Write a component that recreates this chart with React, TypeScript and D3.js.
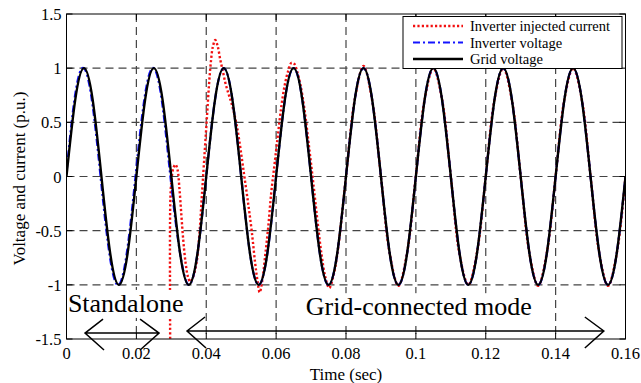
import { useEffect, useRef } from "react";
import * as d3 from "d3";

// axis ticks
const xTicks = [0, 0.02, 0.04, 0.06, 0.08, 0.1, 0.12, 0.14, 0.16];
const xTickLabels = ["0", "0.02", "0.04", "0.06", "0.08", "0.1", "0.12", "0.14", "0.16"];
const yTicks = [-1.5, -1, -0.5, 0, 0.5, 1, 1.5];
const yTickLabels = ["-1.5", "-1", "-0.5", "0", "0.5", "1", "1.5"];

// grid voltage / inverter voltage, sampled every 2.5 ms
const voltageTime = [
  0, 0.0025, 0.005, 0.0075, 0.01, 0.0125, 0.015, 0.0175,
  0.02, 0.0225, 0.025, 0.0275, 0.03, 0.0325, 0.035, 0.0375,
  0.04, 0.0425, 0.045, 0.0475, 0.05, 0.0525, 0.055, 0.0575,
  0.06, 0.0625, 0.065, 0.0675, 0.07, 0.0725, 0.075, 0.0775,
  0.08, 0.0825, 0.085, 0.0875, 0.09, 0.0925, 0.095, 0.0975,
  0.1, 0.1025, 0.105, 0.1075, 0.11, 0.1125, 0.115, 0.1175,
  0.12, 0.1225, 0.125, 0.1275, 0.13, 0.1325, 0.135, 0.1375,
  0.14, 0.1425, 0.145, 0.1475, 0.15, 0.1525, 0.155, 0.1575,
  0.16,
];
const gridVoltage = [
  0, 0.707, 1, 0.707, 0, -0.707, -1, -0.707,
  0, 0.707, 1, 0.707, 0, -0.707, -1, -0.707,
  0, 0.707, 1, 0.707, 0, -0.707, -1, -0.707,
  0, 0.707, 1, 0.707, 0, -0.707, -1, -0.707,
  0, 0.707, 1, 0.707, 0, -0.707, -1, -0.707,
  0, 0.707, 1, 0.707, 0, -0.707, -1, -0.707,
  0, 0.707, 1, 0.707, 0, -0.707, -1, -0.707,
  0, 0.707, 1, 0.707, 0, -0.707, -1, -0.707,
  0,
];
const inverterVoltage = [
  0.04, 0.76, 1, 0.65, -0.08, -0.76, -1, -0.65,
  0.08, 0.76, 1, 0.65, -0.08, -0.707, -1, -0.707,
  0, 0.707, 1, 0.707, 0, -0.707, -1, -0.707,
  0, 0.707, 1, 0.707, 0, -0.707, -1, -0.707,
  0, 0.707, 1, 0.707, 0, -0.707, -1, -0.707,
  0, 0.707, 1, 0.707, 0, -0.707, -1, -0.707,
  0, 0.707, 1, 0.707, 0, -0.707, -1, -0.707,
  0, 0.707, 1, 0.707, 0, -0.707, -1, -0.707,
  0,
];

// inverter injected current (starts when the inverter is connected)
const currentTime = [
  0.0297, 0.0297, 0.03, 0.0306, 0.0312, 0.0318, 0.0323, 0.0328, 0.0334, 0.0341,
  0.0348, 0.0354, 0.0362, 0.0372, 0.038, 0.0388, 0.0396, 0.0402, 0.0408, 0.0413,
  0.0419, 0.0426, 0.0433, 0.044, 0.0447, 0.0455, 0.0464, 0.0472, 0.048, 0.0488,
  0.0496, 0.0503, 0.051, 0.052, 0.053, 0.054, 0.0547, 0.0553, 0.056, 0.0568,
  0.0577, 0.0586, 0.0595, 0.0605, 0.0615, 0.0625, 0.0635, 0.0644, 0.0652, 0.066,
  0.067, 0.0682, 0.0694, 0.0706, 0.0718, 0.073, 0.0741, 0.0752, 0.0763, 0.0775,
  0.08, 0.0825, 0.085, 0.0875, 0.09, 0.0925, 0.095, 0.0975,
  0.1, 0.1025, 0.105, 0.1075, 0.11, 0.1125, 0.115, 0.1175,
  0.12, 0.1225, 0.125, 0.1275, 0.13, 0.1325, 0.135, 0.1375,
  0.14, 0.1425, 0.145, 0.1475, 0.15, 0.1525, 0.155, 0.1575,
  0.16,
];
const injectedCurrent = [
  -1.7, -0.25, -0.05, 0.08, 0.11, 0.06, -0.1, -0.32, -0.58, -0.8,
  -0.93, -0.97, -0.93, -0.8, -0.55, -0.15, 0.25, 0.55, 0.85, 1.05,
  1.2, 1.26, 1.2, 1.08, 0.98, 0.86, 0.76, 0.68, 0.58, 0.46,
  0.3, 0.14, -0.02, -0.25, -0.5, -0.8, -0.97, -1.07, -0.97, -0.75,
  -0.48, -0.15, 0.1, 0.38, 0.65, 0.85, 0.98, 1.05, 1.04, 0.97,
  0.84, 0.6, 0.28, -0.05, -0.4, -0.72, -0.93, -1.03, -0.93, -0.72,
  0, 0.71, 1.02, 0.7, 0, -0.71, -1.01, -0.7,
  0.01, 0.71, 1.0, 0.71, 0, -0.72, -1.0, -0.7,
  0, 0.71, 1.0, 0.7, 0, -0.71, -1.01, -0.7,
  0, 0.71, 1.0, 0.71, 0, -0.71, -1.01, -0.71,
  0,
];

const legendLabels = ["Inverter injected current", "Inverter voltage", "Grid voltage"];
const modeLabels = ["Standalone", "Grid-connected mode"];

const FONT = '"Liberation Serif", Tinos, "Times New Roman", "DejaVu Serif", serif';

export default function App() {
  const ref = useRef<SVGSVGElement>(null);

  useEffect(() => {
    const svg = d3.select(ref.current);
    svg.selectAll("*").remove();

    const left = 66.5, right = 625.5, top = 14, bottom = 339;
    const x = d3.scaleLinear().domain([0, 0.16]).range([left, right]);
    const y = d3.scaleLinear().domain([-1.5, 1.5]).range([bottom, top]);

    svg.append("defs").append("clipPath").attr("id", "plot-clip")
      .append("rect")
      .attr("x", left).attr("y", top)
      .attr("width", right - left).attr("height", bottom - top);

    // dashed grid
    const grid = svg.append("g")
      .attr("stroke", "#444")
      .attr("stroke-width", 1.2)
      .attr("stroke-dasharray", "8,5");
    grid.selectAll(".vgrid")
      .data(xTicks.slice(1, -1))
      .join("line")
      .attr("x1", d => x(d)).attr("x2", d => x(d))
      .attr("y1", top).attr("y2", bottom);
    grid.selectAll(".hgrid")
      .data(yTicks.slice(1, -1))
      .join("line")
      .attr("y1", d => y(d)).attr("y2", d => y(d))
      .attr("x1", left).attr("x2", right);

    // curves
    const plot = svg.append("g").attr("clip-path", "url(#plot-clip)");
    const smooth = d3.line<number>()
      .x((_, i) => x(voltageTime[i]))
      .curve(d3.curveNatural);
    const currentLine = d3.line<number>()
      .x((_, i) => x(currentTime[i]))
      .y(d => y(d))
      .curve(d3.curveCatmullRom.alpha(0.5));

    plot.append("path")
      .attr("d", currentLine(injectedCurrent))
      .attr("fill", "none")
      .attr("stroke", "#f21010")
      .attr("stroke-width", 2.4)
      .attr("stroke-dasharray", "2.2,2.2");

    plot.append("path")
      .attr("d", smooth.y(d => y(d))(inverterVoltage))
      .attr("fill", "none")
      .attr("stroke", "#1414ff")
      .attr("stroke-width", 2.2)
      .attr("stroke-dasharray", "7,3,2,3");

    plot.append("path")
      .attr("d", smooth.y(d => y(d))(gridVoltage))
      .attr("fill", "none")
      .attr("stroke", "#000")
      .attr("stroke-width", 2.4);

    // mode annotations with white background
    const modePos = [[0.0004, -1.25], [0.0685, -1.28]];
    modeLabels.forEach((label, i) => {
      const g = svg.append("g");
      const bg = g.append("rect").attr("fill", "#fff");
      const t = g.append("text")
        .attr("x", x(modePos[i][0]))
        .attr("y", y(modePos[i][1]))
        .style("font-family", FONT)
        .style("font-size", "26px")
        .attr("fill", "#000")
        .text(label);
      const b = (t.node() as SVGTextElement).getBBox();
      bg.attr("x", b.x - 2).attr("y", b.y + 1)
        .attr("width", b.width + 6).attr("height", b.height - 1);
    });

    // double-headed arrows
    const arrows = [[0.0053, 0.0265, -1.445], [0.0345, 0.1538, -1.426]];
    arrows.forEach(([a, b, v]) => {
      const x1 = x(a), x2 = x(b), yy = y(v);
      svg.append("path")
        .attr("d",
          `M${x1},${yy}L${x2},${yy}` +
          `M${x1 + 18},${yy - 14}L${x1},${yy}L${x1 + 19},${yy + 17}` +
          `M${x2 - 19},${yy - 14}L${x2},${yy}L${x2 - 19},${yy + 17}`)
        .attr("fill", "none")
        .attr("stroke", "#000")
        .attr("stroke-width", 1.5);
    });

    // ticks (inward, all four sides)
    const ticks = svg.append("g").attr("stroke", "#000").attr("stroke-width", 1);
    ticks.selectAll(".xb").data(xTicks).join("line")
      .attr("x1", d => x(d)).attr("x2", d => x(d))
      .attr("y1", bottom).attr("y2", bottom - 6);
    ticks.selectAll(".xt").data(xTicks).join("line")
      .attr("x1", d => x(d)).attr("x2", d => x(d))
      .attr("y1", top).attr("y2", top + 6);
    ticks.selectAll(".yl").data(yTicks).join("line")
      .attr("y1", d => y(d)).attr("y2", d => y(d))
      .attr("x1", left).attr("x2", left + 6);
    ticks.selectAll(".yr").data(yTicks).join("line")
      .attr("y1", d => y(d)).attr("y2", d => y(d))
      .attr("x1", right).attr("x2", right - 6);

    // tick labels
    svg.append("g").selectAll("text").data(xTicks).join("text")
      .attr("x", d => x(d))
      .attr("y", bottom + 20)
      .attr("text-anchor", "middle")
      .style("font-family", FONT)
      .style("font-size", "16.5px")
      .text((_, i) => xTickLabels[i]);
    svg.append("g").selectAll("text").data(yTicks).join("text")
      .attr("x", left - 5)
      .attr("y", d => y(d) + 6)
      .attr("text-anchor", "end")
      .style("font-family", FONT)
      .style("font-size", "16.5px")
      .text((_, i) => yTickLabels[i]);

    // axis titles
    svg.append("text")
      .attr("x", (left + right) / 2)
      .attr("y", 380)
      .attr("text-anchor", "middle")
      .style("font-family", FONT)
      .style("font-size", "17px")
      .text("Time (sec)");
    svg.append("text")
      .attr("transform", `translate(25,${(top + bottom) / 2 + 2}) rotate(-90)`)
      .attr("text-anchor", "middle")
      .style("font-family", FONT)
      .style("font-size", "17px")
      .text("Voltage and current (p.u.)");

    // legend
    const legend = svg.append("g");
    legend.append("rect")
      .attr("x", 403).attr("y", 16.5)
      .attr("width", 219).attr("height", 52)
      .attr("fill", "#fff")
      .attr("stroke", "#000")
      .attr("stroke-width", 1);
    const legendStyles = [
      { color: "#f21010", dash: "2.2,2.2", w: 2.4 },
      { color: "#1414ff", dash: "7,3,2,3", w: 2.2 },
      { color: "#000", dash: null, w: 2.4 },
    ];
    legendLabels.forEach((label, i) => {
      const cy = 26 + i * 16.5;
      legend.append("line")
        .attr("x1", 413).attr("x2", 463)
        .attr("y1", cy).attr("y2", cy)
        .attr("stroke", legendStyles[i].color)
        .attr("stroke-width", legendStyles[i].w)
        .attr("stroke-dasharray", legendStyles[i].dash);
      legend.append("text")
        .attr("x", 470).attr("y", cy + 5)
        .style("font-family", FONT)
        .style("font-size", "14.5px")
        .text(label);
    });

    // frame
    svg.append("rect")
      .attr("x", left).attr("y", top)
      .attr("width", right - left).attr("height", bottom - top)
      .attr("fill", "none")
      .attr("stroke", "#000")
      .attr("stroke-width", 1);
  }, []);

  return (
    <svg
      ref={ref}
      width={641}
      height={383}
      style={{ position: "absolute", left: 0, top: 0, background: "#fff" }}
    />
  );
}
